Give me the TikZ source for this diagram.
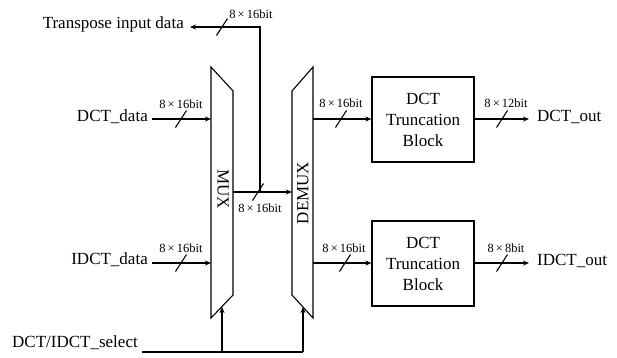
\documentclass[tikz,border=0pt]{standalone}
\usepackage{fontspec}
\setmainfont{Liberation Serif}
\usetikzlibrary{arrows.meta,calc}
\newcommand\busmark[4]{% name, slash centre, label offset, label
  \draw[wire] ($(#2)+(-5.5,8.5)$) -- ($(#2)+(5.5,-8.5)$);
  \node[lbl] (#1) at ($(#2)+(#3)$) {8\,×\,#4};}
\begin{document}
\begin{tikzpicture}[x=1pt,y=-1pt,
  wire/.style={line width=1.1pt},
  arr/.style={wire,-{Stealth[length=6pt,width=5pt]}},
  txt/.style={font=\fontsize{17}{19}\selectfont, inner sep=0pt},
  lbl/.style={font=\fontsize{12.5}{14}\selectfont, inner sep=0pt},
  blk/.style={draw,line width=1.1pt,minimum width=102pt,minimum height=85pt,
    align=center,font=\fontsize{17}{21}\selectfont,inner sep=0pt}]
\useasboundingbox (0,0) rectangle (617,357);

% MUX and DEMUX
\draw[wire] (211,67) -- (233,91) -- (233,295) -- (211,318) -- cycle;
\draw[wire] (313,67) -- (292,91) -- (292,295) -- (313,318) -- cycle;
\node[txt,rotate=-90] (muxl) at (223,189) {MUX};
\node[txt,rotate=90] (demuxl) at (303,193) {DEMUX};
\coordinate (muxin1) at (211,119);
\coordinate (muxin2) at (211,263);
\coordinate (muxout) at (233,192);
\coordinate (demuxin) at (292,192);
\coordinate (demuxout1) at (313,119);
\coordinate (demuxout2) at (313,263);
\coordinate (muxsel) at (222,307);
\coordinate (demuxsel) at (303,307);
\coordinate (junc) at (260,192);

% blocks
\node[blk] (b1) at (423,119.5) {DCT\\Truncation\\Block};
\node[blk] (b2) at (423,263.5) {DCT\\Truncation\\Block};

% texts
\node[txt,anchor=base east] (tin) at (184,28) {Transpose input data};
\node[txt,anchor=base east] (dd) at (148,121) {DCT\_data};
\node[txt,anchor=base east] (idd) at (148,264) {IDCT\_data};
\node[txt,anchor=base west] (sel) at (12,347) {DCT/IDCT\_select};
\node[txt,anchor=base west] (dout) at (537,121) {DCT\_out};
\node[txt,anchor=base west] (iout) at (537,265) {IDCT\_out};

% connectors
\draw[arr] ($(dd.east |- muxin1)+(4,0)$) -- (muxin1);
\draw[arr] ($(idd.east |- muxin2)+(4,0)$) -- (muxin2);
\draw[arr] (muxout) -- (demuxin);
\draw[arr] (junc) -- (260,27) -- ($(tin.base east)+(6,-1)$);
\draw[arr] (demuxout1) -- (b1.west |- demuxout1);
\draw[arr] (demuxout2) -- (b2.west |- demuxout2);
\draw[arr] (b1.east |- demuxout1) -- ($(dout.west |- demuxout1)+(-8,0)$);
\draw[arr] (b2.east |- demuxout2) -- ($(iout.west |- demuxout2)+(-8,0)$);
\draw[wire] ($(sel.base east)+(4,5)$) coordinate (s0) -- (demuxsel |- s0);
\draw[arr] (muxsel |- s0) -- (muxsel);
\draw[arr] (demuxsel |- s0) -- (demuxsel);

% bus widths
\busmark{l1}{222,27}{29,-13}{16bit}
\busmark{l2}{181,119}{0,-15}{16bit}
\busmark{l3}{181,263}{0,-15}{16bit}
\busmark{l4}{258,192}{2,16}{16bit}
\busmark{l5}{341,119}{0,-16}{16bit}
\busmark{l6}{502,119}{4,-16}{12bit}
\busmark{l7}{345,263}{-1,-15}{16bit}
\busmark{l8}{502,263}{4,-15}{8bit}
\end{tikzpicture}
\end{document}
